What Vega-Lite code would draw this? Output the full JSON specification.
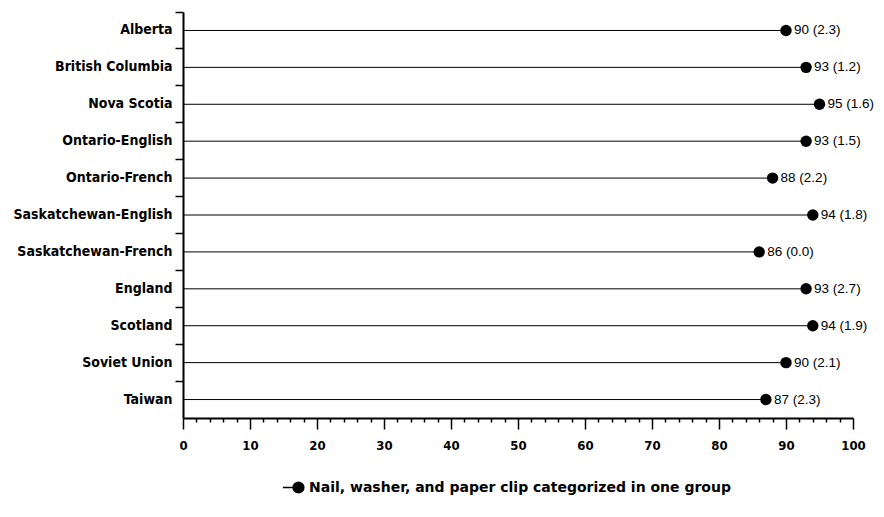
{
  "$schema": "https://vega.github.io/schema/vega-lite/v6.json",
  "width": 670,
  "height": 406,
  "autosize": {"type": "none"},
  "padding": {"left": 183, "top": 12, "right": 31, "bottom": 99},
  "background": "white",
  "config": {"view": {"stroke": null}},
  "data": {
    "values": [
      {"region": "Alberta", "value": 90, "label": "90 (2.3)", "series": "Nail, washer, and paper clip categorized in one group"},
      {"region": "British Columbia", "value": 93, "label": "93 (1.2)", "series": "Nail, washer, and paper clip categorized in one group"},
      {"region": "Nova Scotia", "value": 95, "label": "95 (1.6)", "series": "Nail, washer, and paper clip categorized in one group"},
      {"region": "Ontario-English", "value": 93, "label": "93 (1.5)", "series": "Nail, washer, and paper clip categorized in one group"},
      {"region": "Ontario-French", "value": 88, "label": "88 (2.2)", "series": "Nail, washer, and paper clip categorized in one group"},
      {"region": "Saskatchewan-English", "value": 94, "label": "94 (1.8)", "series": "Nail, washer, and paper clip categorized in one group"},
      {"region": "Saskatchewan-French", "value": 86, "label": "86 (0.0)", "series": "Nail, washer, and paper clip categorized in one group"},
      {"region": "England", "value": 93, "label": "93 (2.7)", "series": "Nail, washer, and paper clip categorized in one group"},
      {"region": "Scotland", "value": 94, "label": "94 (1.9)", "series": "Nail, washer, and paper clip categorized in one group"},
      {"region": "Soviet Union", "value": 90, "label": "90 (2.1)", "series": "Nail, washer, and paper clip categorized in one group"},
      {"region": "Taiwan", "value": 87, "label": "87 (2.3)", "series": "Nail, washer, and paper clip categorized in one group"}
    ]
  },
  "encoding": {
    "y": {
      "field": "region",
      "type": "nominal",
      "sort": null,
      "scale": {"paddingInner": 0, "paddingOuter": 0},
      "axis": {
        "title": null,
        "bandPosition": 0,
        "domainColor": "black",
        "domainWidth": 2,
        "tickColor": "black",
        "tickWidth": 1.5,
        "tickSize": 8,
        "labelPadding": 3,
        "labelFont": "DejaVu Sans Condensed, DejaVu Sans, sans-serif",
        "labelFontWeight": "bold",
        "labelFontSize": 14,
        "labelColor": "black",
        "labelLimit": 200
      }
    }
  },
  "layer": [
    {
      "mark": {"type": "point", "filled": true, "opacity": 1, "size": 130},
      "encoding": {
        "x": {
          "field": "value",
          "type": "quantitative",
          "scale": {"domain": [0, 100], "nice": false},
          "axis": {
            "title": null,
            "values": [0,2,4,6,8,10,12,14,16,18,20,22,24,26,28,30,32,34,36,38,40,42,44,46,48,50,52,54,56,58,60,62,64,66,68,70,72,74,76,78,80,82,84,86,88,90,92,94,96,98,100],
            "tickCount": 200,
            "format": "d",
            "labelExpr": "datum.value % 10 === 0 ? datum.label : ''",
            "grid": false,
            "domainColor": "black",
            "domainWidth": 2,
            "tickColor": "black",
            "tickWidth": 1.5,
            "tickSize": {"condition": {"test": "datum.value % 10 === 0", "value": 11}, "value": 4},
            "labelPadding": 10,
            "labelFont": "DejaVu Sans Condensed, DejaVu Sans, sans-serif",
            "labelFontWeight": "bold",
            "labelFontSize": 13,
            "labelColor": "black",
            "labelOverlap": false,
            "labelFlush": false
          }
        },
        "color": {
          "field": "series",
          "type": "nominal",
          "scale": {"range": ["black"]},
          "legend": {
            "title": null,
            "orient": "none",
            "legendX": 105,
            "legendY": 465,
            "symbolType": "M-1.6,0L0,0M-0.55,0A0.55,0.55 0 1,0 0.55,0A0.55,0.55 0 1,0 -0.55,0Z",
            "symbolSize": 380,
            "symbolStrokeWidth": 1.5,
            "symbolStrokeColor": "black",
            "symbolFillColor": "black",
            "labelFont": "DejaVu Sans, sans-serif",
            "labelFontWeight": "bold",
            "labelFontSize": 14,
            "labelColor": "black",
            "labelLimit": 700,
            "labelOffset": 0
          }
        }
      }
    },
    {
      "mark": {"type": "rule", "color": "black", "strokeWidth": 1},
      "encoding": {
        "x": {"field": "value", "type": "quantitative"},
        "x2": {"datum": 0}
      }
    },
    {
      "mark": {"type": "text", "align": "left", "dx": 8, "font": "Liberation Sans, Arial, sans-serif", "fontSize": 13.5, "color": "black"},
      "encoding": {
        "x": {"field": "value", "type": "quantitative"},
        "text": {"field": "label", "type": "nominal"}
      }
    }
  ]
}
